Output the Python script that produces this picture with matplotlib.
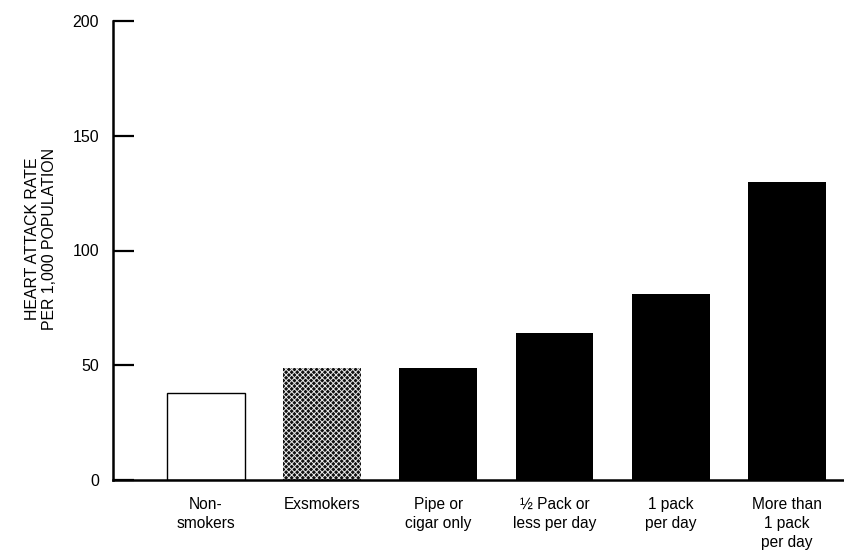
import matplotlib
matplotlib.use("Agg")
import matplotlib.pyplot as plt

categories = ["Non-\nsmokers", "Exsmokers", "Pipe or\ncigar only",
              "\u00bd Pack or\nless per day", "1 pack\nper day", "More than\n1 pack\nper day"]
values = [38, 49, 49, 64, 81, 130]
yticks = [0, 50, 100, 150, 200]

plt.rcParams['font.family'] = ['Liberation Sans', 'DejaVu Sans']
plt.rcParams['hatch.linewidth'] = 0.7

fig = plt.figure(figsize=(8.45, 5.52), dpi=100)
ax = fig.add_axes([113/845, 1-480/552, 1-113/845, (480-21)/552])

x = list(range(len(values)))
w = 0.67
for i, v in enumerate(values):
    if i == 0:
        ax.bar(i, v, width=w, facecolor='white', edgecolor='black', linewidth=1.0)
    elif i == 1:
        ax.bar(i, v, width=w, facecolor='#111111', edgecolor='#e8e8e8', hatch='xxxxxx', linewidth=0)
    else:
        ax.bar(i, v, width=w, facecolor='black', edgecolor='black', linewidth=0)

ax.set_xlim(-0.80, 5.50)
ax.set_ylim(0, 200)
ax.set_yticks(yticks)
ax.set_yticklabels([str(t) for t in yticks], fontsize=11.5)
ax.tick_params(axis='y', direction='in', length=15, width=1.6, pad=10)
ax.set_xticks(x)
ax.set_xticklabels(categories, fontsize=11.2, linespacing=1.33, va='top')
ax.tick_params(axis='x', length=0, pad=12)
for s in ['top', 'right']:
    ax.spines[s].set_visible(False)
ax.spines['left'].set_linewidth(1.8)
ax.spines['bottom'].set_linewidth(1.8)

fig.text(41/845, 1-239/552, "HEART ATTACK RATE\nPER 1,000 POPULATION", rotation=90,
         ha='center', va='center', fontsize=11.4, linespacing=1.15, multialignment='center')

fig.savefig("out.png", dpi=100)
